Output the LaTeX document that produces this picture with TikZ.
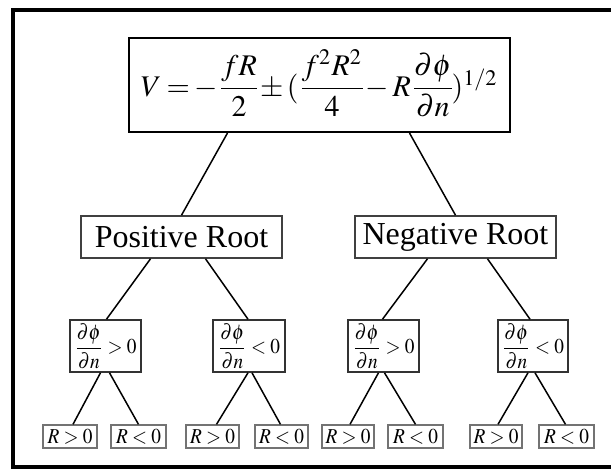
\documentclass[tikz,border=0pt]{standalone}
\usepackage{amsmath}
\usepackage{mathptmx}
\usepackage{fontspec}
\setmainfont{Liberation Serif}
\usepackage{graphicx}
\newcommand{\condtxt}[1]{\resizebox*{62pt}{45pt}{$\dfrac{\partial\phi}{\partial n}#1$}}
\newcommand{\leaftxt}[1]{\resizebox*{45pt}{15pt}{$R#1$}}
\tikzset{
  topbox/.style={draw=black, line width=2pt, minimum width=381pt, minimum height=94pt, inner sep=0pt},
  rootbox/.style={draw=black!75, line width=1.6pt, minimum width=201pt, minimum height=42pt, inner sep=0pt, font=\fontsize{32}{34}\selectfont},
  condbox/.style={draw=black!80, line width=1.6pt, minimum height=52pt, inner sep=0pt},
  leafbox/.style={draw=black!55, line width=1.3pt, minimum height=23pt, inner sep=0pt},
  conn/.style={draw=black, line width=1.5pt}
}
\begin{document}
\begin{tikzpicture}[x=1pt,y=-1pt]
\useasboundingbox (0,0) rectangle (611,471);
\begin{scope}
\clip (0,0) rectangle (611,471);
\draw[line width=4pt] (13,10) -- (640,10) -- (640,467) -- (13,467) -- cycle;
\end{scope}
\node[topbox] (top) at (319.5,85) {\raisebox{-11pt}[0pt][0pt]{\resizebox{357pt}{!}{$\medmuskip=2mu\thickmuskip=3mu\nulldelimiterspace=0pt V = -\,\dfrac{fR}{2} \pm (\,\dfrac{f^2R^2}{4} - R\,\dfrac{\partial\phi}{\partial n})^{1/2}$}}};
\node[rootbox] (pr) at (181.5,237) {Positive Root};
\node[rootbox] (nr) at (455.5,237) {Negative Root};
\node[condbox, minimum width=71pt] (b1) at (105.5,346) {\condtxt{>0}};
\node[condbox, minimum width=72pt] (b2) at (249,346) {\condtxt{<0}};
\node[condbox, minimum width=71pt] (b3) at (383.5,346) {\condtxt{>0}};
\node[condbox, minimum width=70pt] (b4) at (533,346) {\condtxt{<0}};
\node[leafbox, minimum width=54pt] (l1) at (70,436.5) {\leaftxt{>0}};
\node[leafbox, minimum width=55pt] (l2) at (138.5,436.5) {\leaftxt{<0}};
\node[leafbox, minimum width=53pt] (l3) at (212.5,436.5) {\leaftxt{>0}};
\node[leafbox, minimum width=53pt] (l4) at (281.5,436.5) {\leaftxt{<0}};
\node[leafbox, minimum width=52pt] (l5) at (348,436.5) {\leaftxt{>0}};
\node[leafbox, minimum width=55pt] (l6) at (415.5,436.5) {\leaftxt{<0}};
\node[leafbox, minimum width=52pt] (l7) at (496,436.5) {\leaftxt{>0}};
\node[leafbox, minimum width=55pt] (l8) at (566.5,436.5) {\leaftxt{<0}};
\draw[conn] ([xshift=-92pt]top.south) -- (pr.north);
\draw[conn] ([xshift=90pt]top.south) -- (nr.north);
\draw[conn] ([xshift=-31pt]pr.south) -- ([xshift=1pt]b1.north);
\draw[conn] ([xshift=24pt]pr.south) -- ([xshift=-1pt]b2.north);
\draw[conn] ([xshift=-28pt]nr.south) -- ([xshift=-1pt]b3.north);
\draw[conn] ([xshift=32pt]nr.south) -- ([xshift=-3pt]b4.north);
\draw[conn] ([xshift=-5pt]b1.south) -- ([xshift=3pt]l1.north);
\draw[conn] ([xshift=4pt]b1.south) -- (l2.north);
\draw[conn] ([xshift=-1pt]b2.south) -- ([xshift=4pt]l3.north);
\draw[conn] ([xshift=3pt]b2.south) -- ([xshift=-1pt]l4.north);
\draw[conn] ([xshift=-5pt]b3.south) -- ([xshift=2pt]l5.north);
\draw[conn] ([xshift=1pt]b3.south) -- (l6.north);
\draw[conn] ([xshift=-5pt]b4.south) -- ([xshift=2pt]l7.north);
\draw[conn] ([xshift=2pt]b4.south) -- ([xshift=-1pt]l8.north);
\end{tikzpicture}
\end{document}
